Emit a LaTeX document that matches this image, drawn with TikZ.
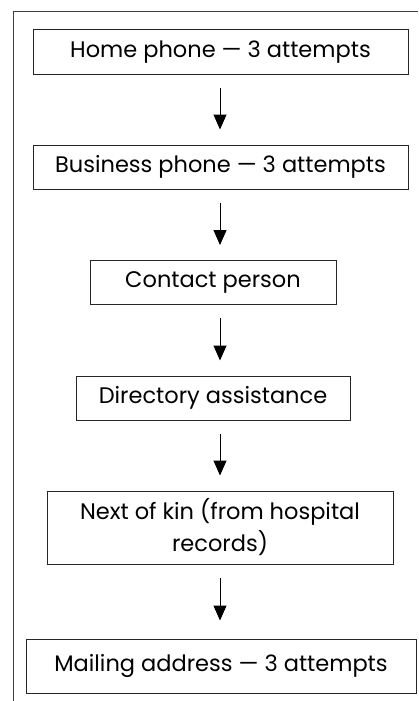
\documentclass[tikz,border=0pt]{standalone}
\usepackage{fontspec}
\setmainfont{Poppins}
\usetikzlibrary{arrows.meta}
\begin{document}
\begin{tikzpicture}[x=1pt,y=-1pt,
  stepbox/.style={draw=black!85,line width=1pt,inner sep=0pt,align=center,
    font=\fontsize{22.5}{32}\selectfont},
  arr/.style={line width=1pt,-{Triangle[width=13pt,length=15pt]}}]
\useasboundingbox (0,0) rectangle (418,701);
\draw[black!75,line width=1pt] (13.5,701) -- (13.5,11.5) -- (418,11.5);
\coordinate (ax) at (220,0);
\node[stepbox,minimum width=375pt,minimum height=44pt] (b1) at (220.5,52) {Home phone — 3 attempts};
\node[stepbox,minimum width=375pt,minimum height=44pt] (b2) at (220.5,167) {Business phone — 3 attempts};
\node[stepbox,minimum width=246pt,minimum height=44pt] (b3) at (213,282.5) {Contact person};
\node[stepbox,minimum width=274pt,minimum height=44pt] (b4) at (213,398) {Directory assistance};
\node[stepbox,minimum width=346pt,minimum height=73pt] (b5) at (220,527.5) {Next of kin (from hospital\\records)};
\node[stepbox,minimum width=390pt,minimum height=54pt] (b6) at (221,666) {Mailing address — 3 attempts};
\draw[arr] ([yshift=-13pt]b1.south -| ax) -- ([yshift=15pt]b2.north -| ax);
\draw[arr] ([yshift=-13pt]b2.south -| ax) -- ([yshift=15pt]b3.north -| ax);
\draw[arr] ([yshift=-13pt]b3.south -| ax) -- ([yshift=15pt]b4.north -| ax);
\draw[arr] ([yshift=-13pt]b4.south -| ax) -- ([yshift=15pt]b5.north -| ax);
\draw[arr] ([yshift=-13pt]b5.south -| ax) -- ([yshift=18pt]b6.north -| ax);
\end{tikzpicture}
\end{document}
